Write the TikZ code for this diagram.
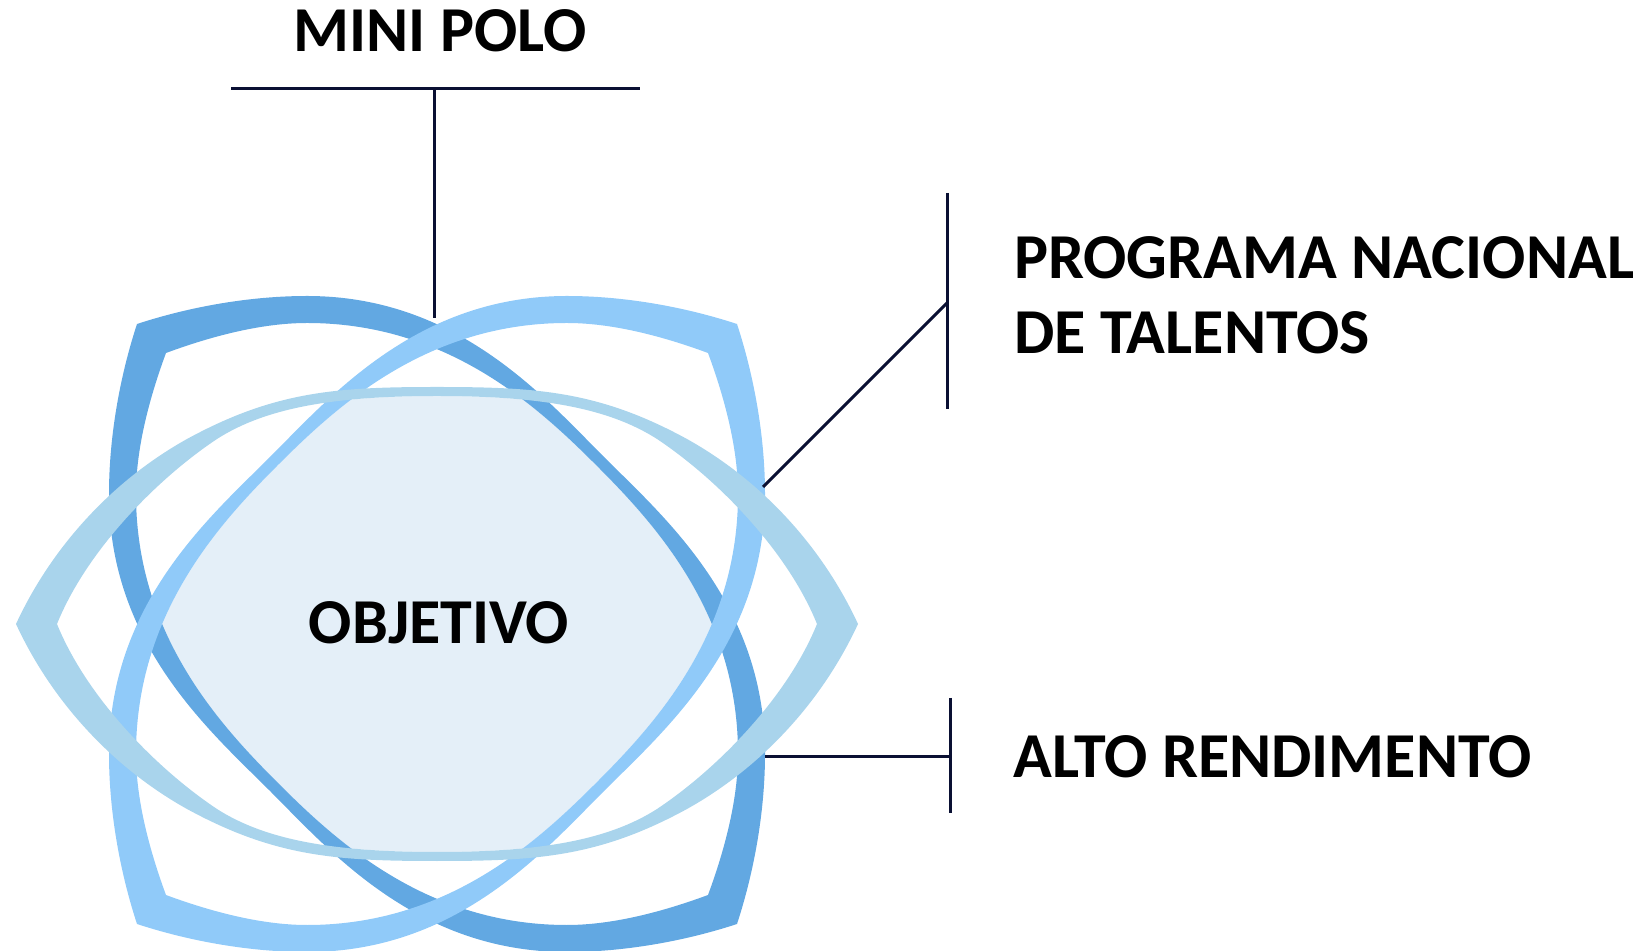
\documentclass[tikz,border=0pt]{standalone}
\usepackage{fontspec}
\setmainfont{Carlito}
\usetikzlibrary{calc}
\definecolor{ringdark}{HTML}{62A8E2}
\definecolor{ringlight}{HTML}{90CAF9}
\definecolor{ringpale}{HTML}{A9D4EC}
\definecolor{corefill}{HTML}{E4EFF8}
\definecolor{leader}{HTML}{0A1033}
\tikzset{
  ringouter/.style = {insert path = {
    (-300,300) .. controls (-245,318) and (-185,328) .. (-130,328)
    .. controls (20,328) and (107,227) .. (167,167)
    .. controls (227,107) and (328,20) .. (328,-130)
    .. controls (328,-185) and (318,-245) .. (300,-300)
    .. controls (245,-318) and (185,-328) .. (130,-328)
    .. controls (-20,-328) and (-107,-227) .. (-167,-167)
    .. controls (-227,-107) and (-328,-20) .. (-328,130)
    .. controls (-328,185) and (-318,245) .. (-300,300) -- cycle}},
  ringinner/.style = {insert path = {
    (-271,271) .. controls (-225,288) and (-175,301) .. (-130,301)
    .. controls (10,301) and (100,218) .. (159,159)
    .. controls (218,100) and (301,10) .. (301,-130)
    .. controls (301,-175) and (288,-225) .. (271,-271)
    .. controls (225,-288) and (175,-301) .. (130,-301)
    .. controls (-10,-301) and (-100,-218) .. (-159,-159)
    .. controls (-218,-100) and (-301,-10) .. (-301,130)
    .. controls (-301,175) and (-288,225) .. (-271,271) -- cycle}},
  paleouter/.style = {insert path = {
    (-421,0) .. controls (-383,82) and (-320,146) .. (-250,185)
    .. controls (-162,233) and (-100,237) .. (0,237)
    .. controls (100,237) and (162,233) .. (250,185)
    .. controls (320,146) and (383,82) .. (421,0)
    .. controls (383,-82) and (320,-146) .. (250,-185)
    .. controls (162,-233) and (100,-237) .. (0,-237)
    .. controls (-100,-237) and (-162,-233) .. (-250,-185)
    .. controls (-320,-146) and (-383,-82) .. (-421,0) -- cycle}},
  paleinner/.style = {insert path = {
    (-380,0) .. controls (-350,74) and (-280,145) .. (-220,185)
    .. controls (-170,217) and (-100,228) .. (0,228)
    .. controls (100,228) and (170,217) .. (220,185)
    .. controls (280,145) and (350,74) .. (380,0)
    .. controls (350,-74) and (280,-145) .. (220,-185)
    .. controls (170,-217) and (100,-228) .. (0,-228)
    .. controls (-100,-228) and (-170,-217) .. (-220,-185)
    .. controls (-280,-145) and (-350,-74) .. (-380,0) -- cycle}}
}
\begin{document}
\begin{tikzpicture}[
    x = 1pt,
    y = 1pt,
    labeltext/.style = {font = \fontsize{64}{75}\selectfont\bfseries, text = black, inner sep = 0pt},
    leaderline/.style = {draw = leader, line width = 3pt}
    ]
    \useasboundingbox (0,0) rectangle (1645,950);

    \begin{scope}[shift = {(437,326)}]
      \begin{scope}
        \clip[ringinner];
        \clip[xscale = -1, ringinner];
        \fill[corefill, paleinner];
      \end{scope}
      \foreach \s/\c in {1/ringdark, -1/ringlight}{
        \fill[\c, xscale = \s, even odd rule, ringouter, ringinner];
      }
      \fill[ringpale, even odd rule, paleouter, paleinner];
    \end{scope}

    \node[labeltext, anchor = base] (core) at (439,306) {OBJETIVO};
    \node[labeltext, anchor = base] (mini) at (440,898) {MINI POLO};
    \node[labeltext, anchor = base west, align = left] (prog) at (1014,596) {PROGRAMA NACIONAL\\DE TALENTOS};
    \node[labeltext, anchor = base west] (alto) at (1013,172) {ALTO RENDIMENTO};

    \coordinate (minileft) at (231,861);
    \coordinate (miniright) at (640,861);
    \coordinate (minijoin) at (434,861);
    \coordinate (minitip) at (434,632);
    \coordinate (progtop) at (947,757);
    \coordinate (progbot) at (947,541);
    \coordinate (progjoin) at (947,647);
    \coordinate (progtip) at (763,463);
    \coordinate (altotop) at (950,252);
    \coordinate (altobot) at (950,137);
    \coordinate (altojoin) at (950,193);
    \coordinate (altotip) at (765,193);

    \draw[leaderline] (minileft) -- (miniright);
    \draw[leaderline] (minijoin) -- (minitip);
    \draw[leaderline] (progtop) -- (progbot);
    \draw[leaderline] (progjoin) -- (progtip);
    \draw[leaderline] (altotop) -- (altobot);
    \draw[leaderline] (altojoin) -- (altotip);
  \end{tikzpicture}
\end{document}
